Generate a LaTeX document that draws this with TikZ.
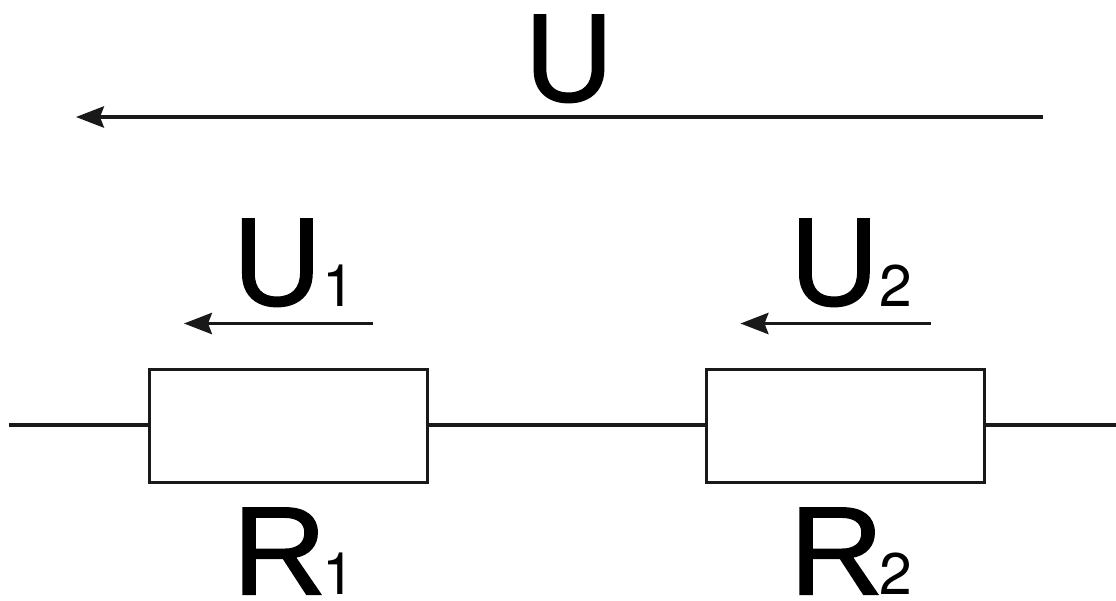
\documentclass[tikz,border=0pt]{standalone}
\usepackage{fontspec}
\setmainfont{Liberation Sans}
\newfontfamily\heavy[FakeBold=1.1,FakeStretch=0.97]{Liberation Sans}
\newfontfamily\heavyr[FakeBold=1.1,FakeStretch=1.04]{Liberation Sans}
\newfontfamily\digits{TeX Gyre Heros}
\usetikzlibrary{arrows.meta}
\tikzset{
 px/.style={x=0.75pt,y=-0.75pt},
 res/.style={draw=black!90,line width=2.4pt,minimum width=208.5pt,minimum height=84.75pt,inner sep=0pt,fill=white},
 wire/.style={line width=2.4pt,black!90},
 arr/.style={line width=2.3pt,black!90,-{Stealth[length=21pt,width=16pt,inset=3pt]}},
 big/.style={inner sep=0pt,anchor=base,font=\heavy\fontsize{94.5}{94.5}\selectfont},
 bigsym/.style={inner sep=0pt,anchor=base west,font=\heavy\fontsize{94.5}{94.5}\selectfont},
 bigr/.style={inner sep=0pt,anchor=base west,font=\heavyr\fontsize{94.5}{94.5}\selectfont},
 subs/.style={inner sep=0pt,anchor=base west,font=\digits\fontsize{44}{44}\selectfont}
}
\begin{document}
\begin{tikzpicture}[px]
\useasboundingbox (0,0) rectangle (1116,600);
\fill[white] (0,0) rectangle (1116,600);
\coordinate (w0) at (9,425);
\coordinate (w1) at (1116,425);
\node[res] (r1) at (288.5,426) {};
\node[res] (r2) at (845.2,426) {};
\draw[wire] (w0) -- (r1.west |- w0);
\draw[wire] (r1.east |- w0) -- (r2.west |- w0);
\draw[wire] (r2.east |- w0) -- (w1);
\coordinate (a0) at (1043,117); \coordinate (a1) at (76,117);
\draw[arr] (a0) -- (a1);
\coordinate (b0) at (373,323.5); \coordinate (b1) at (184,323.5);
\draw[arr] (b0) -- (b1);
\coordinate (c0) at (931,323.5); \coordinate (c1) at (740.5,323.5);
\draw[arr] (c0) -- (c1);
\node[big] (u) at (569,101.5) {U};
\node[bigsym] (u1) at (233,305.5) {U};
\node[subs] (u1s) at (322,306.5) {1};
\node[bigsym] (u2) at (790,305.5) {U};
\node[subs] (u2s) at (879,306.5) {2};
\node[bigr] (rr1) at (232,594.5) {R};
\node[subs] (rr1s) at (322,594.5) {1};
\node[bigr] (rr2) at (789,594.5) {R};
\node[subs] (rr2s) at (879,594.5) {2};
\end{tikzpicture}
\end{document}
